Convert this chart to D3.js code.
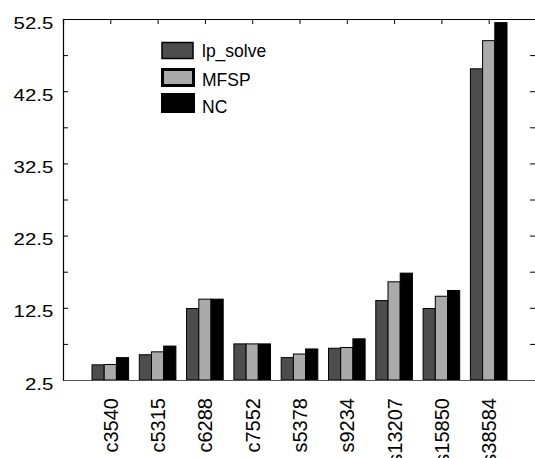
<!DOCTYPE html>
<html>
<head>
<meta charset="utf-8">
<script src="https://cdn.jsdelivr.net/npm/d3@7"></script>
<style>
  body { margin: 0; background: #fff; }
  svg { display: block; font-family: "Liberation Sans", Arial, sans-serif; }
</style>
</head>
<body>
<script>
// circuits and run times
var circuits = ["c3540", "c5315", "c6288", "c7552", "s5378", "s9234", "s13207", "s15850", "s38584"];
var lpSolve = [4.6, 6.0, 12.4, 7.5, 5.6, 6.9, 13.5, 12.4, 45.6];
var mfsp    = [4.65, 6.4, 13.7, 7.5, 6.1, 7.0, 16.1, 14.1, 49.5];
var nc      = [5.6, 7.2, 13.7, 7.5, 6.8, 8.2, 17.3, 14.9, 52.0];
var seriesNames = ["lp_solve", "MFSP", "NC"];
var seriesColors = ["#4d4d4d", "#aaaaaa", "#000000"];
var yTicks = [2.5, 7.5, 12.5, 17.5, 22.5, 27.5, 32.5, 37.5, 42.5, 47.5, 52.5];

var series = [lpSolve, mfsp, nc];

var margin = {top: 19, right: 0, bottom: 78, left: 63},
    width = 536 - margin.left,
    height = 458 - margin.top - margin.bottom;

// slot 0 and slot 10 are empty, circuits sit on 1..9
var x = d3.scaleLinear().domain([0, circuits.length + 1]).range([0, width]);
var y = d3.scaleLinear().domain([2.5, 52.5]).range([height, 0]);

var groupW = x(1) - x(0);
var barW = groupW * 0.258;

var svg = d3.select("body").append("svg")
            .attr("width", 535)
            .attr("height", 458)
            .append("g")
            .attr("transform", "translate(" + margin.left + "," + margin.top + ")");

// bars
series.forEach(function (vals, s) {
    svg.append("g")
       .selectAll("rect")
       .data(vals)
       .enter().append("rect")
       .attr("x", function (d, i) { return x(i + 1) + (s - 1.5) * barW; })
       .attr("y", function (d) { return y(d); })
       .attr("width", barW)
       .attr("height", function (d) { return y(2.5) - y(d); })
       .attr("fill", seriesColors[s])
       .attr("stroke", "#000")
       .attr("stroke-width", 1);
});

// axes
var left = svg.append("g")
   .call(d3.axisLeft(y).tickValues(yTicks).tickSize(-5)
           .tickFormat(function (d) { return ((d - 2.5) % 10 === 0) ? d3.format(".1f")(d) : ""; }));
left.selectAll("text")
    .attr("font-size", 17)
    .attr("fill", "#000")
    .attr("x", 0)
    .attr("dy", 0)
    .attr("y", 9)
    .attr("transform", "translate(-9.7,0) scale(1.2,1)");

svg.append("g")
   .attr("transform", "translate(" + width + ",0)")
   .call(d3.axisRight(y).tickValues(yTicks).tickSize(-6).tickFormat(""));

svg.append("g")
   .call(d3.axisTop(x).tickValues(d3.range(1, circuits.length + 1)).tickSize(-5).tickFormat(""));

var bottom = svg.append("g")
   .attr("transform", "translate(0," + height + ")")
   .call(d3.axisBottom(x).tickValues(d3.range(1, circuits.length + 1)).tickSize(0)
           .tickFormat(function (d) { return circuits[d - 1]; }));
bottom.select(".domain").attr("stroke", "#555");
bottom.selectAll("text")
    .attr("font-size", 20)
    .attr("fill", "#000")
    .attr("text-anchor", "end")
    .attr("dy", 0)
    .attr("y", 0)
    .attr("transform", "translate(7,18) rotate(-90)");

svg.selectAll(".domain").attr("stroke-width", 1.2);
svg.selectAll(".tick line").attr("stroke", "#000");

// legend
var legend = svg.append("g").attr("transform", "translate(" + (161 - margin.left) + "," + (42 - margin.top) + ")");
var legendY = [0, 26, 51];
seriesNames.forEach(function (name, i) {
    var g = legend.append("g").attr("transform", "translate(0," + legendY[i] + ")");
    if (i === 1) {
        g.append("rect").attr("x", 1.5).attr("y", 1.5).attr("width", 31).attr("height", 16)
         .attr("fill", seriesColors[i]).attr("stroke", "#000").attr("stroke-width", 3);
    } else if (i === 0) {
        g.append("rect").attr("x", 1).attr("y", 0.5).attr("width", 31).attr("height", 16)
         .attr("fill", seriesColors[i]).attr("stroke", "#000").attr("stroke-width", 1.5);
    } else {
        g.append("rect").attr("x", 0).attr("y", 0).attr("width", 34).attr("height", 20)
         .attr("fill", seriesColors[i]);
    }
    g.append("text")
     .attr("x", 41)
     .attr("y", [15, 18, 20][i])
     .attr("font-size", 17.5)
     .attr("fill", "#000")
     .text(name);
});
</script>
</body>
</html>
